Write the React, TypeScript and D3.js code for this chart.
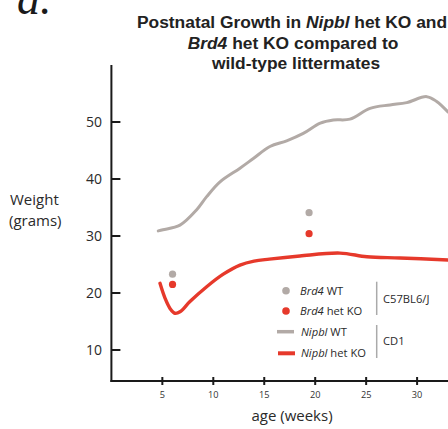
import React from "react";
import * as d3 from "d3";

// Nipbl WT (CD1) growth curve: [age in weeks, weight in grams]
const nipblWT: [number, number][] = [
  [4.6, 30.9], [5.06, 31.1], [6.73, 31.9], [8.37, 34.6], [9.35, 36.9],
  [10.66, 39.5], [12.62, 41.9], [13.93, 43.6], [15.56, 45.7], [17.2, 46.7],
  [18.83, 48.0], [20.5, 49.8], [21.78, 50.35], [23.41, 50.5], [25.38, 52.4],
  [27.34, 53.0], [28.98, 53.4], [30.94, 54.45], [31.92, 53.6], [33.03, 51.75],
];

// Nipbl het KO (CD1) growth curve
const nipblHet: [number, number][] = [
  [4.77, 21.7], [5.26, 19.1], [5.75, 17.3], [6.24, 16.45], [6.73, 16.7],
  [7.71, 18.5], [9.35, 21.1], [10.98, 23.3], [12.62, 24.9], [14.0, 25.6],
  [15.5, 25.95], [18.5, 26.5], [22.43, 27.0], [25.08, 26.35], [28.33, 26.15],
  [33.04, 25.8],
];

// Brd4 (C57BL6/J) single time points
const brd4WT: [number, number][] = [[6.0, 23.3], [19.4, 34.1]];
const brd4Het: [number, number][] = [[6.0, 21.5], [19.4, 30.4]];

const yTicks = [10, 20, 30, 40, 50];
const xTicks = [5, 10, 15, 20, 25, 30];

const GRAY = "#b2aaa6";
const RED = "#e6392b";
const SANS = "'Open Sans', 'Noto Sans', sans-serif";

const W = 448;
const H = 429;

export default function App() {
  const x = d3.scaleLinear().domain([0, 33.5]).range([111.4, 111.4 + 33.5 * 10.19]);
  const y = d3.scaleLinear().domain([4.56, 60]).range([381, 65]);

  const line = d3
    .line<[number, number]>()
    .x((d) => x(d[0]))
    .y((d) => y(d[1]))
    .curve(d3.curveCatmullRom.alpha(0.5));

  const axisX0 = x(0);
  const axisY0 = y(4.56);

  return (
    <svg
      width={W}
      height={H}
      viewBox={`0 0 ${W} ${H}`}
      style={{ position: "absolute", left: 0, top: 0, background: "#fff" }}
    >
      <defs>
        <clipPath id="plotClip">
          <rect x={0} y={0} width={W} height={H} />
        </clipPath>
      </defs>

      {/* panel label */}
      <text x={17} y={14} fontFamily="'Liberation Serif', serif" fontStyle="italic" fontSize={46} fill="#1a1a1a">
        a.
      </text>

      {/* title */}
      <g fontFamily="'Liberation Sans', Arial, sans-serif" fontWeight="bold" fontSize={17.4} fill="#222" textAnchor="middle">
        <text x={292} y={28}>
          Postnatal Growth in <tspan fontStyle="italic">Nipbl</tspan> het KO and
        </text>
        <text x={293} y={48.5}>
          <tspan fontStyle="italic">Brd4</tspan> het KO compared to
        </text>
        <text x={296} y={68.5}>wild-type littermates</text>
      </g>

      {/* y axis title */}
      <g fontFamily={SANS} fontSize={15} fill="#2a2a2a">
        <text x={10} y={205}>Weight</text>
        <text x={9} y={226}>(grams)</text>
      </g>

      {/* axes */}
      <g stroke="#1a1a1a" strokeWidth={2} fill="none">
        <line x1={axisX0} x2={axisX0} y1={65} y2={axisY0 + 1} />
        <line x1={axisX0 - 1} x2={W} y1={axisY0} y2={axisY0} />
        {yTicks.map((t) => (
          <line key={`yt${t}`} x1={axisX0} x2={axisX0 + 9} y1={y(t)} y2={y(t)} />
        ))}
        {xTicks.map((t) => (
          <line key={`xt${t}`} x1={x(t)} x2={x(t)} y1={axisY0 - 4} y2={axisY0 + 4} />
        ))}
      </g>

      <g fontFamily={SANS} fontSize={14} fill="#2a2a2a" textAnchor="end">
        {yTicks.map((t) => (
          <text key={`yl${t}`} x={102} y={y(t) + 5}>
            {t}
          </text>
        ))}
      </g>
      <g fontFamily={SANS} fontSize={9.2} fill="#333" textAnchor="middle">
        {xTicks.map((t) => (
          <text key={`xl${t}`} x={x(t)} y={398}>
            {t}
          </text>
        ))}
      </g>
      <text x={292} y={421} fontFamily={SANS} fontSize={15} fill="#2a2a2a" textAnchor="middle">
        age (weeks)
      </text>

      {/* growth curves */}
      <g clipPath="url(#plotClip)" fill="none" strokeLinecap="round" strokeLinejoin="round">
        <path d={line(nipblWT) ?? ""} stroke={GRAY} strokeWidth={3} />
        <path d={line(nipblHet) ?? ""} stroke={RED} strokeWidth={3.4} />
      </g>

      {/* Brd4 points */}
      {brd4WT.map((d, i) => (
        <circle key={`bw${i}`} cx={x(d[0])} cy={y(d[1])} r={3.6} fill={GRAY} />
      ))}
      {brd4Het.map((d, i) => (
        <circle key={`bh${i}`} cx={x(d[0])} cy={y(d[1])} r={3.6} fill={RED} />
      ))}

      {/* legend */}
      <g fontFamily={SANS} fontSize={11.2} fill="#2a2a2a">
        <circle cx={286} cy={290.7} r={3.8} fill={GRAY} />
        <text x={300} y={294.7}>
          <tspan fontStyle="italic">Brd4</tspan> WT
        </text>
        <circle cx={286} cy={311} r={3.8} fill={RED} />
        <text x={300} y={315}>
          <tspan fontStyle="italic">Brd4</tspan> het KO
        </text>
        <line x1={277} x2={294} y1={331.7} y2={331.7} stroke={GRAY} strokeWidth={3.5} />
        <text x={301} y={335.7}>
          <tspan fontStyle="italic">Nipbl</tspan> WT
        </text>
        <line x1={278} x2={295} y1={353.3} y2={353.3} stroke={RED} strokeWidth={4} />
        <text x={301} y={357.3}>
          <tspan fontStyle="italic">Nipbl</tspan> het KO
        </text>

        <line x1={376.7} x2={376.7} y1={281.7} y2={315} stroke="#aaa" strokeWidth={1.5} />
        <line x1={376.7} x2={376.7} y1={325} y2={358} stroke="#aaa" strokeWidth={1.5} />
        <text x={383} y={303}>C57BL6/J</text>
        <text x={383} y={345}>CD1</text>
      </g>
    </svg>
  );
}
